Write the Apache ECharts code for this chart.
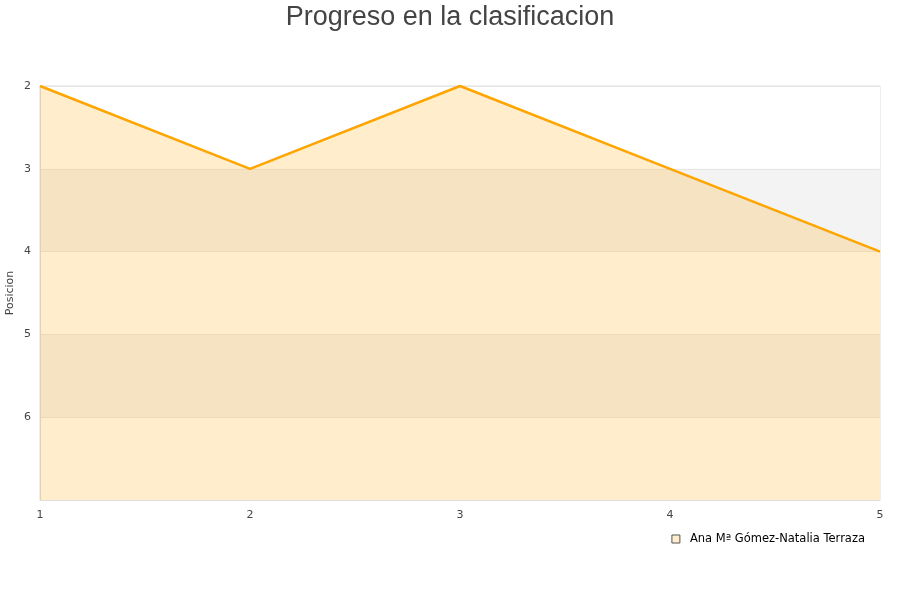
<!DOCTYPE html>
<html>
<head>
<meta charset="utf-8">
<script src="https://cdn.jsdelivr.net/npm/echarts@6/dist/echarts.min.js"></script>
<style>
  html, body { margin: 0; padding: 0; background: #fff; }
  #chart { width: 900px; height: 600px; }
</style>
</head>
<body>
<div id="chart"></div>
<script>
const jornadas = ['1', '2', '3', '4', '5']
const posiciones = [2, 3, 2, 3, 4]
const pareja = 'Ana Mª Gómez-Natalia Terraza'

const chart = echarts.init(document.getElementById('chart'))
chart.setOption({
  animation: false,
  textStyle: { fontFamily: 'DejaVu Sans' },
  title: {
    text: 'Progreso en la clasificacion',
    left: 'center',
    top: -1,
    textStyle: { fontSize: 27, fontWeight: 'normal', color: '#444', fontFamily: 'Liberation Sans' }
  },
  legend: {
    right: 30,
    top: 528,
    itemWidth: 8,
    itemHeight: 8,
    icon: 'rect',
    textStyle: { fontSize: 11.5, color: '#000', padding: [0, 0, 0, 5] },
    data: [{ name: pareja, itemStyle: { color: '#ffedcc', borderColor: '#555', borderWidth: 1 } }]
  },
  grid: {
    left: 40, right: 20, top: 86, bottom: 100,
    outerBoundsMode: 'none',
    show: true, borderColor: '#ddd', borderWidth: 1
  },
  xAxis: {
    type: 'category',
    data: jornadas,
    boundaryGap: false,
    axisLine: { lineStyle: { color: '#ddd' } },
    axisTick: { show: false },
    axisLabel: { color: '#444', fontSize: 11, margin: 10 }
  },
  yAxis: {
    type: 'value',
    inverse: true,
    min: 2,
    max: 7,
    interval: 1,
    name: 'Posicion',
    nameLocation: 'middle',
    nameGap: 24,
    nameMoveOverlap: false,
    nameTextStyle: { fontSize: 11, color: '#444' },
    axisLine: { show: true, lineStyle: { color: '#ddd' } },
    axisTick: { show: false },
    axisLabel: {
      color: '#444',
      fontSize: 11,
      margin: 9,
      formatter: v => (v === 7 ? '' : v)
    },
    splitLine: { lineStyle: { color: '#e6e6e6' } },
    splitArea: { show: true, areaStyle: { color: ['#ffffff', '#f3f3f3'] } }
  },
  series: [{
    name: pareja,
    type: 'line',
    data: posiciones,
    showSymbol: false,
    lineStyle: { color: '#ffa500', width: 2.5 },
    itemStyle: { color: '#ffa500' },
    areaStyle: { color: '#ffa500', opacity: 0.2, origin: 'end' }
  }]
})
</script>
</body>
</html>
